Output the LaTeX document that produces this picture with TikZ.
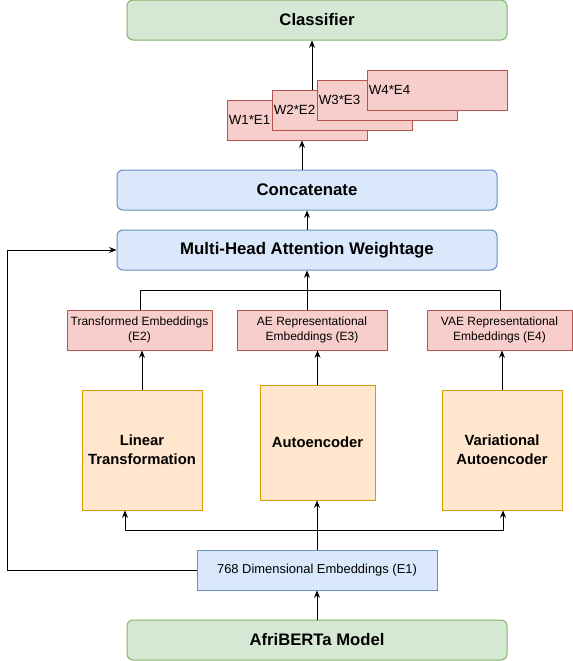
\documentclass[tikz,border=0pt]{standalone}
\usepackage{fontspec}
\setmainfont{Liberation Sans}
\usetikzlibrary{arrows.meta,calc}
\definecolor{gfill}{HTML}{D5E8D4}\definecolor{gdraw}{HTML}{82B366}
\definecolor{bfill}{HTML}{DAE8FC}\definecolor{bdraw}{HTML}{6C8EBF}
\definecolor{rfill}{HTML}{F8CECC}\definecolor{rdraw}{HTML}{B85450}
\definecolor{ofill}{HTML}{FFE6CC}\definecolor{odraw}{HTML}{D79B00}
\begin{document}
\begin{tikzpicture}[x=0.75pt,y=-0.75pt,
  box/.style={draw,line width=0.75pt,inner sep=2pt,align=center,text=black},
  greenbox/.style={box,fill=gfill,draw=gdraw,rounded corners=4.5pt,minimum width=285pt,minimum height=30pt,font=\fontsize{12.5}{15}\selectfont\bfseries},
  bluebox/.style={box,fill=bfill,draw=bdraw,rounded corners=4.5pt,minimum width=285pt,minimum height=30pt,font=\fontsize{12.6}{15}\selectfont\bfseries},
  redbox/.style={box,fill=rfill,draw=rdraw,minimum height=30pt,font=\fontsize{9}{11.25}\selectfont},
  wbox/.style={box,fill=rfill,draw=rdraw,minimum width=105pt,minimum height=30pt},
  wtext/.style={anchor=west,inner sep=1.5pt,font=\fontsize{10}{12}\selectfont},
  orangebox/.style={box,fill=ofill,draw=odraw,font=\fontsize{11.1}{14.25}\selectfont\bfseries},
  conn/.style={line width=0.75pt,draw=black},
  arr/.style={conn,-{Stealth[length=5.5pt,width=4.5pt]}}]
\useasboundingbox (0,0) rectangle (573,661);

\node[greenbox] (cls) at (317,20) {Classifier};
\node[wbox] (w1) at (297,120) {};
\node[wtext] (t1) at (w1.west) {W1*E1};
\node[wbox] (w2) at (342,110) {};
\node[wtext] (t2) at (w2.west) {W2*E2};
\node[wbox] (w3) at (387,100) {};
\node[wtext] (t3) at (w3.west) {W3*E3};
\node[wbox] (w4) at (437,90) {};
\node[wtext] (t4) at (w4.west) {W4*E4};

\node[bluebox] (cat) at (307,190) {Concatenate};
\node[bluebox] (mha) at (307,250) {Multi-Head Attention Weightage};

\node[redbox,minimum width=108.75pt] (e2) at (139.5,330) {Transformed Embeddings\\(E2)};
\node[redbox,minimum width=112.5pt] (e3) at (312,330) {AE Representational\\Embeddings (E3)};
\node[redbox,minimum width=108.75pt] (e4) at (499.5,330) {VAE Representational\\Embeddings (E4)};

\node[orangebox,minimum width=90pt,minimum height=90pt] (lin) at (142,450) {Linear\\Transformation};
\node[orangebox,minimum width=86.25pt,minimum height=86.25pt] (ae) at (317.5,442.5) {Autoencoder};
\node[orangebox,minimum width=90pt,minimum height=90pt] (vae) at (502,450) {Variational\\Autoencoder};

\node[box,fill=bfill,draw=bdraw,minimum width=180pt,minimum height=30pt,font=\fontsize{9.7}{11.5}\selectfont] (e1) at (317,570) {768 Dimensional Embeddings (E1)};
\node[greenbox] (afr) at (317,640) {AfriBERTa Model};

% connectors
\draw[arr] (afr.north) -- (e1.south);
\draw[arr] (e1.north) -- (e1.north |- ae.south);
\coordinate (jl) at (125,530);
\coordinate (jr) at (503,530);
\draw[arr] (jl -| e1.north) -- (jl) -- (jl |- lin.south);
\draw[arr] (jl -| e1.north) -- (jr) -- (jr |- vae.south);
\draw[arr] (lin.north) -- (lin.north |- e2.south);
\draw[arr] (ae.north) -- (ae.north |- e3.south);
\draw[arr] (vae.north) -- (vae.north |- e4.south);
\coordinate (tb) at (0,290);
\draw[conn] ([xshift=0.375pt]e2.north) -- ([xshift=0.375pt]e2.north |- tb) -- ([xshift=0.375pt]e4.north |- tb) -- ([xshift=0.375pt]e4.north);
\draw[conn] (e3.north -| mha.south) -- (mha.south |- tb);
\draw[arr] (mha.south |- tb) -- (mha.south);
\coordinate (lft) at (7,0);
\draw[arr] (e1.west) -- (lft |- e1.west) -- (lft |- mha.west) -- (mha.west);
\draw[arr] (mha.north) -- (cat.south);
\draw[arr] ([xshift=3.75pt]w1.south |- cat.north) -- ([xshift=3.75pt]w1.south);
\draw[arr] ([xshift=-3.75pt]cls.south |- w2.north) -- ([xshift=-3.75pt]cls.south);
\end{tikzpicture}
\end{document}
